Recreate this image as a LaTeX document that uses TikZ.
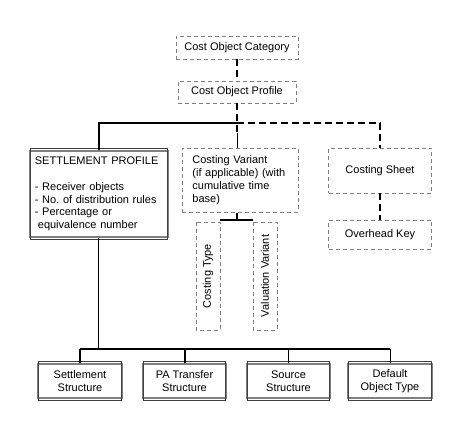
\documentclass[tikz,border=0pt]{standalone}
\usepackage{fontspec}
\setmainfont{Liberation Sans}
\frenchspacing
\begin{document}
\begin{tikzpicture}[x=1pt,y=-1pt,
  every node/.style={font=\fontsize{11}{12.9}\selectfont},
  dbox/.style={draw=gray, dash pattern=on 4pt off 3pt, line width=0.8pt, rectangle, inner sep=0pt},
  sbox/.style={draw=gray, line width=1.8pt, rectangle, inner sep=0pt, align=center},
  thk/.style={line width=2pt},
  mid/.style={line width=1.6pt},
  thkd/.style={line width=2pt, dash pattern=on 7pt off 4pt},
  thn/.style={line width=0.9pt}]
\useasboundingbox (0,0) rectangle (455,434);

% top boxes
\node[dbox, minimum width=122pt, minimum height=23pt] (cat) at (237,47.5) {Cost Object Category};
\node[dbox, minimum width=118pt, minimum height=22pt] (prof) at (237,92) {Cost Object Profile};

% settlement profile
\node[sbox, anchor=north west, minimum height=86pt, text width=128pt, inner xsep=5pt, align=left] (setp) at (29,150)
 {SETTLEMENT PROFILE\\[12.9pt]- Receiver objects\\- No. of distribution rules\\- Percentage or\\\hspace*{3pt}equivalence number};

% costing variant
\node[dbox, anchor=north west, minimum height=64pt, text width=104pt, inner xsep=6pt, align=left] (cv) at (182,148)
 {\hspace*{4pt}Costing Variant\\\hspace*{4pt}(if applicable) (with\\\hspace*{4pt}cumulative time\\\hspace*{4pt}base)};

% costing sheet and overhead key
\node[dbox, minimum width=103pt, minimum height=45pt] (cs) at (380,170.5) {Costing Sheet};
\node[dbox, minimum width=103pt, minimum height=29pt] (ohk) at (380,234.5) {Overhead Key};

% rotated boxes
\node[dbox, rotate=90, minimum width=108pt, minimum height=24pt] (ct) at (208,276) {Costing Type};
\node[dbox, rotate=90, minimum width=108pt, minimum height=24pt] (vv) at (265,276) {Valuation Variant};

% bottom boxes
\node[sbox, minimum width=84pt, minimum height=34pt] (ss) at (80,381) {Settlement\\Structure};
\node[sbox, minimum width=83pt, minimum height=34pt] (pa) at (184.5,381) {PA Transfer\\Structure};
\node[sbox, minimum width=83pt, minimum height=34pt] (src) at (288.5,381) {Source\\Structure};
\node[sbox, minimum width=84pt, minimum height=34pt] (dot) at (390,381) {Default\\Object Type};

% inner dark frames of the raised boxes
\foreach \n in {setp,ss,pa,src,dot}{
  \draw[line width=0.6pt, black!75] ([shift={(1.5pt,1.5pt)}]\n.north west) rectangle ([shift={(-1.5pt,-1.5pt)}]\n.south east);
}

% coordinates
\coordinate (j) at (237,123);
\coordinate (j2) at (237,133);
\coordinate (bl) at (220,220);
\coordinate (br) at (253,220);
\coordinate (bus) at (0,349);

% connectors
\draw[thkd] (cat.south) -- (prof.north);
\draw[thkd] (prof.south) -- (j2);
\draw[thn] (j2) -- (j2 |- cv.north);
\draw[thk] (j) -| (setp.north);
\draw[thkd] (j) -| (cs.north);
\draw[thkd] (cs.south) -- (ohk.north);
\draw[mid] (j |- cv.south) -- (j |- bl);
\draw[mid] (bl) -- (br);
\draw[thn] (setp.south) -- (setp.south |- bus);
\draw[thk] (ss.north |- bus) -- (dot.north |- bus);
\draw[thk] (ss.north |- bus) -- (ss.north);
\draw[thk] (pa.north |- bus) -- (pa.north);
\draw[thn] (src.north |- bus) -- (src.north);
\draw[thn] (dot.north |- bus) -- (dot.north);
\end{tikzpicture}
\end{document}
